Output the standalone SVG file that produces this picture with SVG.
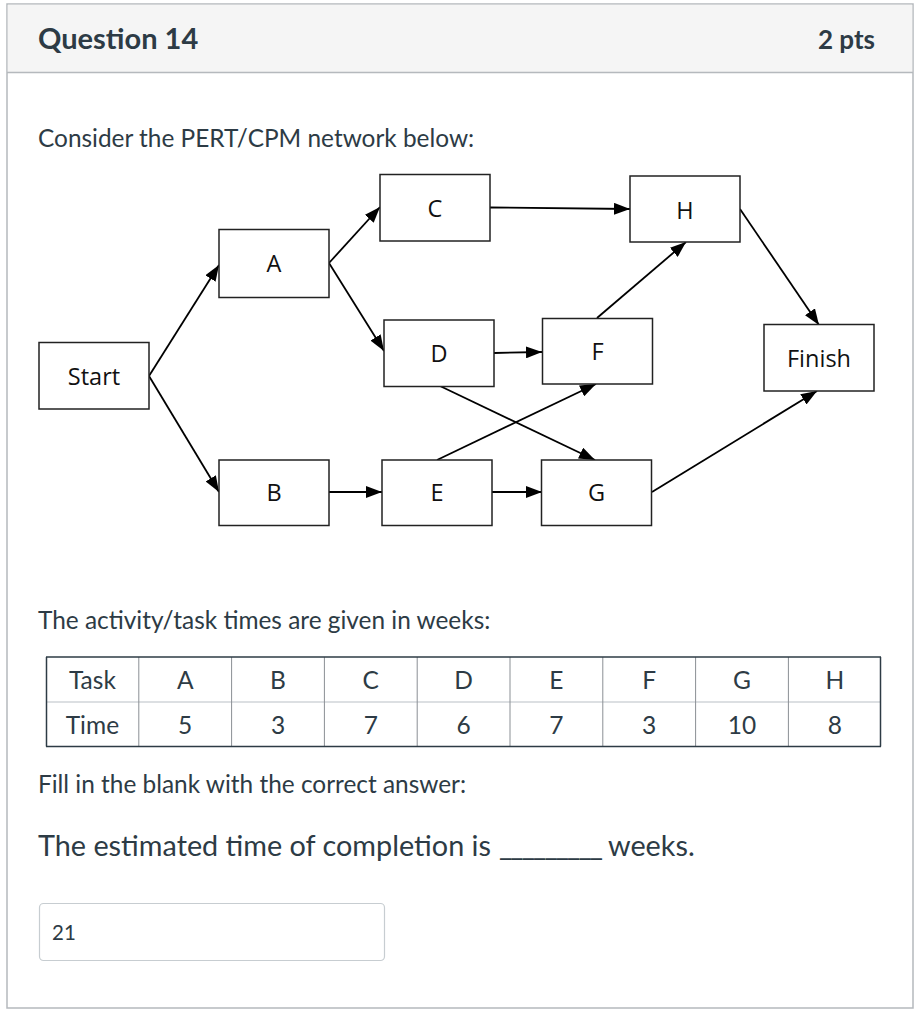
<svg xmlns="http://www.w3.org/2000/svg" width="920" height="1024" viewBox="0 0 920 1024">
<style>
.page{font-family:Lato,"Open Sans","Liberation Sans",sans-serif;fill:#2d3b45}
.node rect{fill:#fff;stroke:#222;stroke-width:1.5}
.node text{font-family:"Open Sans","Noto Sans","Liberation Sans",sans-serif;font-size:23.5px;fill:#111;text-anchor:middle}
.conn line{stroke:#000;stroke-width:1.8;fill:none}
.cell{font-family:Lato,"Liberation Sans",sans-serif;font-size:24.5px;fill:#2d3b45;text-anchor:middle}
</style>
<defs>
<marker id="arr" viewBox="0 0 16 12" refX="16" refY="6" markerWidth="16" markerHeight="12" markerUnits="userSpaceOnUse" orient="auto">
<path d="M0,0 L16,6 L0,12 z" fill="#000"/>
</marker>
</defs>
<rect x="0" y="0" width="920" height="1024" fill="#fff"/>
<!-- frame -->
<rect x="7" y="4" width="906" height="1004" fill="#fff" stroke="#b5b9bd" stroke-width="1.5"/>
<rect x="7.75" y="4.75" width="904.5" height="67.5" fill="#f5f5f5"/>
<line x1="7" y1="72.5" x2="913" y2="72.5" stroke="#b5b9bd" stroke-width="1.5"/>
<text class="page" x="38" y="49" font-size="29" font-weight="700">Question 14</text>
<text class="page" x="875" y="49" font-size="26" font-weight="700" text-anchor="end">2 pts</text>
<text class="page" x="38" y="147" font-size="24.4">Consider the PERT/CPM network below:</text>

<!-- connectors -->
<g class="conn">
<line x1="149" y1="376" x2="219" y2="265" marker-end="url(#arr)"/>
<line x1="149" y1="376" x2="219" y2="492" marker-end="url(#arr)"/>
<line x1="329" y1="263" x2="380" y2="207" marker-end="url(#arr)"/>
<line x1="329" y1="263" x2="384" y2="351" marker-end="url(#arr)"/>
<line x1="329" y1="492" x2="382" y2="492" marker-end="url(#arr)"/>
<line x1="494" y1="353" x2="542" y2="352" marker-end="url(#arr)"/>
<line x1="440" y1="386" x2="595" y2="460" marker-end="url(#arr)"/>
<line x1="437" y1="460" x2="596" y2="384" marker-end="url(#arr)"/>
<line x1="492" y1="492" x2="542" y2="492" marker-end="url(#arr)"/>
<line x1="490" y1="207.5" x2="630" y2="209" marker-end="url(#arr)"/>
<line x1="597" y1="318" x2="686" y2="242" marker-end="url(#arr)"/>
<line x1="740" y1="209" x2="819" y2="325" marker-end="url(#arr)"/>
<line x1="652" y1="492" x2="817" y2="391" marker-end="url(#arr)"/>
</g>

<!-- nodes -->
<g id="start" class="node"><rect x="39" y="342.5" width="110" height="66.5"/><text x="94" y="385">Start</text></g>
<g id="a" class="node"><rect x="219" y="229.5" width="110" height="68"/><text x="274" y="272">A</text></g>
<g id="c" class="node"><rect x="380" y="174.5" width="110" height="66.5"/><text x="435" y="217">C</text></g>
<g id="d" class="node"><rect x="384" y="320" width="110" height="66.5"/><text x="439" y="362">D</text></g>
<g id="b" class="node"><rect x="219" y="460" width="110" height="65.5"/><text x="274" y="501">B</text></g>
<g id="e" class="node"><rect x="382" y="460" width="110" height="65.5"/><text x="437" y="501">E</text></g>
<g id="h" class="node"><rect x="630" y="176" width="110" height="66"/><text x="685" y="219">H</text></g>
<g id="f" class="node"><rect x="542.5" y="318.5" width="110" height="65.5"/><text x="597.5" y="360">F</text></g>
<g id="g" class="node"><rect x="541.5" y="460" width="110" height="65.5"/><text x="596.5" y="501">G</text></g>
<g id="finish" class="node"><rect x="764" y="324.5" width="110" height="66.5"/><text x="819" y="367">Finish</text></g>

<text class="page" x="38" y="629" font-size="24.4">The activity/task times are given in weeks:</text>

<!-- table -->
<g id="table">
<line x1="46" y1="702" x2="881" y2="702" stroke="#d0d4d8" stroke-width="1.5"/>
<g stroke="#8a8f94" stroke-width="1">
<line x1="138.8" y1="657" x2="138.8" y2="746"/>
<line x1="231.6" y1="657" x2="231.6" y2="746"/>
<line x1="324.4" y1="657" x2="324.4" y2="746"/>
<line x1="417.2" y1="657" x2="417.2" y2="746"/>
<line x1="510" y1="657" x2="510" y2="746"/>
<line x1="602.8" y1="657" x2="602.8" y2="746"/>
<line x1="695.6" y1="657" x2="695.6" y2="746"/>
<line x1="788.4" y1="657" x2="788.4" y2="746"/>
</g>
<g stroke="#2d3b45" stroke-width="1.5">
<line x1="46" y1="657" x2="881" y2="657"/>
<line x1="46" y1="746.5" x2="881" y2="746.5"/>
<line x1="46.5" y1="657" x2="46.5" y2="746.5"/>
<line x1="880.5" y1="657" x2="880.5" y2="746.5"/>
</g>
<text class="cell" x="92.4" y="689">Task</text>
<text class="cell" x="185.2" y="689">A</text>
<text class="cell" x="278" y="689">B</text>
<text class="cell" x="370.8" y="689">C</text>
<text class="cell" x="463.6" y="689">D</text>
<text class="cell" x="556.4" y="689">E</text>
<text class="cell" x="649.2" y="689">F</text>
<text class="cell" x="742" y="689">G</text>
<text class="cell" x="834.8" y="689">H</text>
<text class="cell" x="92.4" y="734">Time</text>
<text class="cell" x="185.2" y="734">5</text>
<text class="cell" x="278" y="734">3</text>
<text class="cell" x="370.8" y="734">7</text>
<text class="cell" x="463.6" y="734">6</text>
<text class="cell" x="556.4" y="734">7</text>
<text class="cell" x="649.2" y="734">3</text>
<text class="cell" x="742" y="734">10</text>
<text class="cell" x="834.8" y="734">8</text>
</g>

<text class="page" x="38" y="793" font-size="24.4">Fill in the blank with the correct answer:</text>
<text class="page" x="38" y="856" font-size="28.8">The estimated time of completion is</text>
<text class="page" x="499" y="856" font-size="28.8" textLength="104" lengthAdjust="spacing">_________</text>
<text class="page" x="608" y="856" font-size="28.8">weeks.</text>

<rect x="39.5" y="903.5" width="345" height="57" rx="4" fill="#fff" stroke="#c7cdd1" stroke-width="1.2"/>
<text class="page" x="52" y="940" font-size="20.5">21</text>
</svg>
